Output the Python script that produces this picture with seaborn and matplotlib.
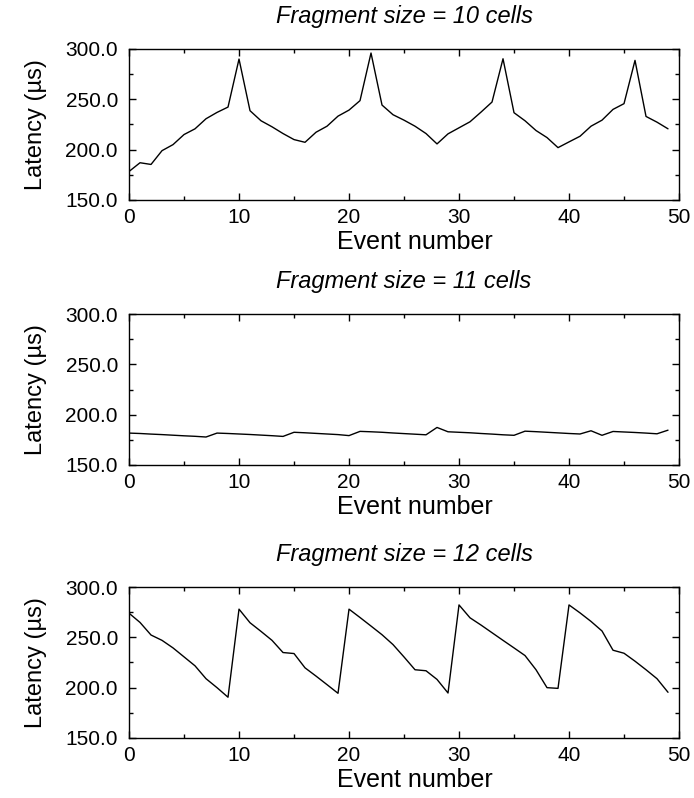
import numpy as np
import pandas as pd
import matplotlib
matplotlib.use('Agg')
import matplotlib.pyplot as plt
from matplotlib.ticker import MultipleLocator, FormatStrFormatter
import seaborn as sns

# event index shared by all three runs
events = list(range(50))

# latency (us) per event, fragment size = 10 cells
latency_10 = [178.3, 187.0, 185.3, 199.0, 205.0, 215.0, 220.7, 230.7, 237.0, 242.3,
              290.0, 238.7, 228.7, 222.7, 216.0, 210.0, 207.3, 217.3, 223.3, 233.3,
              239.3, 248.7, 296.0, 244.3, 234.7, 229.3, 223.3, 216.0, 205.7, 215.7,
              221.7, 227.7, 237.3, 247.3, 290.3, 236.7, 228.7, 219.0, 212.0, 202.0,
              207.7, 213.3, 223.3, 229.3, 240.0, 245.7, 288.7, 233.0, 227.3, 220.7]

# fragment size = 11 cells
latency_11 = [181.7, 181.3, 180.7, 180.2, 179.6, 179.0, 178.5, 177.8, 181.7, 181.3,
              180.8, 180.3, 179.7, 179.1, 178.4, 182.5, 182.0, 181.4, 180.8, 180.2,
              179.2, 183.4, 183.0, 182.5, 181.8, 181.2, 180.6, 180.0, 187.3, 183.0,
              182.5, 182.0, 181.3, 180.7, 180.0, 179.5, 183.6, 183.1, 182.5, 181.9,
              181.3, 180.8, 184.0, 179.5, 183.3, 182.8, 182.3, 181.7, 181.0, 184.6]

# fragment size = 12 cells
latency_12 = [274.0, 264.8, 252.3, 247.0, 239.5, 230.6, 221.7, 208.9, 200.0, 190.5,
              278.0, 264.5, 255.9, 247.0, 234.9, 233.9, 219.7, 211.5, 203.0, 194.4,
              278.0, 269.7, 261.2, 252.6, 242.8, 230.5, 217.8, 216.8, 208.2, 194.7,
              282.2, 269.4, 262.2, 254.6, 247.0, 239.5, 231.9, 217.8, 200.0, 199.3,
              282.2, 274.3, 265.8, 256.3, 237.2, 234.2, 226.3, 217.8, 208.9, 195.4]

titles = ['Fragment size = 10 cells', 'Fragment size = 11 cells', 'Fragment size = 12 cells']
series = [latency_10, latency_11, latency_12]

sns.set_style('ticks')
plt.rcParams['font.family'] = ['Liberation Sans', 'DejaVu Sans']
plt.rcParams['text.color'] = 'black'
plt.rcParams['axes.labelcolor'] = 'black'
plt.rcParams['xtick.color'] = 'black'
plt.rcParams['ytick.color'] = 'black'

fig = plt.figure(figsize=(6.94, 7.98), dpi=100)
bottoms = [0.7494, 0.4173, 0.0752]

for bottom, title, values in zip(bottoms, titles, series):
    ax = fig.add_axes([0.1859, bottom, 0.7925, 0.1892])
    df = pd.DataFrame({'Event number': events, 'Latency': values})
    sns.lineplot(data=df, x='Event number', y='Latency', color='black',
                 linewidth=1.0, ax=ax)
    ax.set_xlim(0, 50)
    ax.set_ylim(150, 300)
    ax.xaxis.set_major_locator(MultipleLocator(10))
    ax.xaxis.set_minor_locator(MultipleLocator(5))
    ax.yaxis.set_major_locator(MultipleLocator(50))
    ax.yaxis.set_minor_locator(MultipleLocator(25))
    ax.yaxis.set_major_formatter(FormatStrFormatter('%.1f'))
    ax.tick_params(which='both', direction='in', top=True, right=True,
                   width=1.0, color='black')
    ax.tick_params(which='major', length=5, labelsize=15)
    ax.tick_params(which='minor', length=3)
    ax.tick_params(axis='x', pad=6)
    ax.tick_params(axis='y', pad=8)
    for sp in ax.spines.values():
        sp.set_linewidth(1.0)
        sp.set_color('black')
    ax.set_xlabel('Event number', fontsize=18)
    ax.xaxis.set_label_coords(0.52, -0.2)
    ax.set_ylabel('Latency (\u00b5s)', fontsize=17, labelpad=13)
    ax.set_title(title, fontsize=17, style='italic', pad=19)

fig.savefig('out.png', dpi=100)
